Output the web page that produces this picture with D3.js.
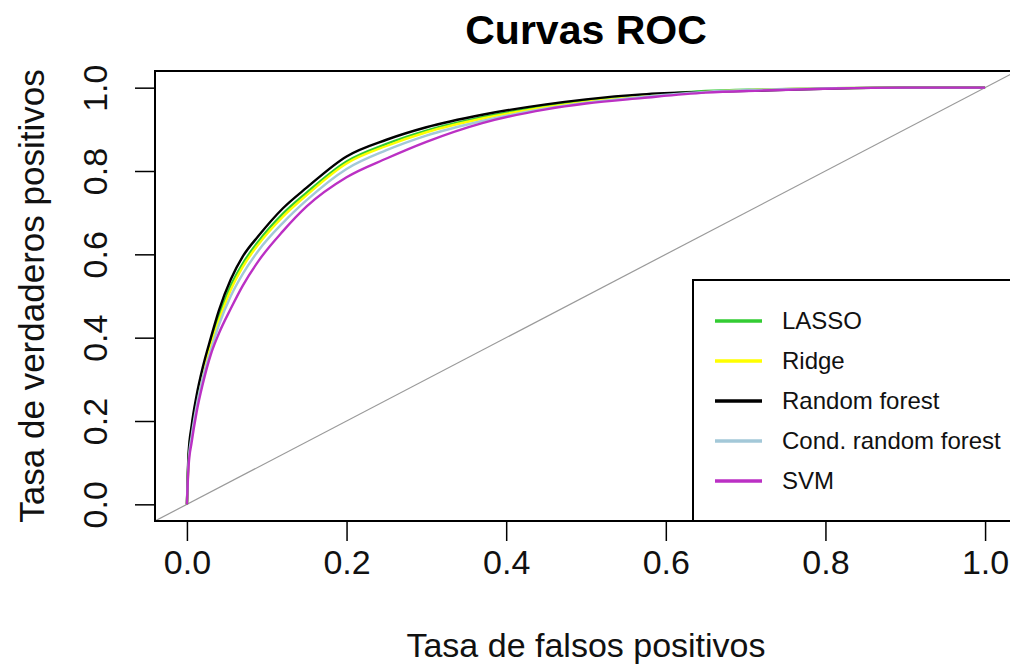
<!DOCTYPE html>
<html>
<head>
<meta charset="utf-8">
<script src="https://cdn.jsdelivr.net/npm/d3@7"></script>
<style>
  body { margin: 0; background: #fff; }
  svg { display: block; font-family: "Liberation Sans", Arial, sans-serif; }
</style>
</head>
<body>
<svg id="chart" width="1010" height="668"></svg>
<script>
// false positive rate grid
const fpr = [0, 0.002, 0.006, 0.012, 0.02, 0.03, 0.04, 0.055, 0.07, 0.09, 0.12, 0.15,
             0.2, 0.25, 0.3, 0.37, 0.45, 0.5, 0.57, 0.65, 0.72, 0.81, 0.9, 1.0];

// true positive rates per model
const tprLasso = [0, 0.11, 0.18, 0.25, 0.32, 0.39, 0.45, 0.525, 0.578, 0.632, 0.697, 0.748,
                  0.823, 0.865, 0.897, 0.929, 0.956, 0.968, 0.98, 0.992, 0.996, 0.999, 1, 1];
const tprRidge = [0, 0.10, 0.175, 0.245, 0.315, 0.38, 0.44, 0.515, 0.57, 0.625, 0.69, 0.742,
                  0.818, 0.86, 0.893, 0.926, 0.953, 0.966, 0.979, 0.99, 0.995, 0.999, 1, 1];
const tprRf    = [0, 0.12, 0.19, 0.26, 0.33, 0.40, 0.465, 0.54, 0.595, 0.645, 0.71, 0.76,
                  0.835, 0.875, 0.905, 0.935, 0.96, 0.972, 0.984, 0.99, 0.993, 0.998, 1, 1];
const tprCrf   = [0, 0.10, 0.165, 0.235, 0.305, 0.37, 0.43, 0.5, 0.553, 0.61, 0.675, 0.73,
                  0.805, 0.85, 0.885, 0.92, 0.95, 0.964, 0.978, 0.99, 0.995, 0.999, 1, 1];
const tprSvm   = [0, 0.09, 0.15, 0.22, 0.29, 0.36, 0.41, 0.47, 0.525, 0.585, 0.655, 0.715,
                  0.785, 0.83, 0.87, 0.915, 0.948, 0.962, 0.975, 0.988, 0.993, 0.998, 1, 1];

const modelNames = ["LASSO", "Ridge", "Random forest", "Cond. random forest", "SVM"];
const modelColors = ["#33cc33", "#ffff00", "#000000", "#a3c8d8", "#bb30c4"];
const modelTpr = [tprLasso, tprRidge, tprRf, tprCrf, tprSvm];

const xTicks = [0, 0.2, 0.4, 0.6, 0.8, 1.0];
const yTicks = [0, 0.2, 0.4, 0.6, 0.8, 1.0];

const svg = d3.select("#chart");
const box = { left: 155, right: 1017, top: 71, bottom: 521 };

// R style usr range: 4% padding on each side
const x = d3.scaleLinear().domain([-0.04, 1.04]).range([box.left, box.right]);
const y = d3.scaleLinear().domain([-0.04, 1.04]).range([box.bottom, box.top]);
const fmt = d3.format(".1f");

svg.append("defs").append("clipPath").attr("id", "plotclip")
  .append("rect")
  .attr("x", box.left).attr("y", box.top)
  .attr("width", box.right - box.left).attr("height", box.bottom - box.top);

const plot = svg.append("g").attr("clip-path", "url(#plotclip)");

// reference diagonal
plot.append("line")
  .attr("x1", x(-0.04)).attr("y1", y(-0.04))
  .attr("x2", x(1.04)).attr("y2", y(1.04))
  .attr("stroke", "#9a9a9a")
  .attr("stroke-width", 1.2);

// ROC curves
const line = d3.line()
  .x(d => x(d[0]))
  .y(d => y(d[1]))
  .curve(d3.curveMonotoneX);

modelTpr.forEach((tpr, i) => {
  plot.append("path")
    .datum(fpr.map((f, j) => [f, tpr[j]]))
    .attr("fill", "none")
    .attr("stroke", modelColors[i])
    .attr("stroke-width", 2.4)
    .attr("stroke-linejoin", "round")
    .attr("d", line);
});

// x axis
const xAxis = svg.append("g")
  .attr("transform", `translate(0,${box.bottom})`)
  .call(d3.axisBottom(x).tickValues(xTicks).tickFormat(fmt).tickSize(20).tickSizeOuter(0));
xAxis.select(".domain").remove();
xAxis.selectAll(".tick line").attr("stroke", "#000").attr("stroke-width", 1.5);
xAxis.selectAll(".tick text")
  .attr("y", 53).attr("dy", 0)
  .attr("font-size", 34)
  .attr("fill", "#111")
  .attr("font-family", "Liberation Sans, Arial, sans-serif");

// y axis
const yAxis = svg.append("g")
  .attr("transform", `translate(${box.left},0)`)
  .call(d3.axisLeft(y).tickValues(yTicks).tickFormat(fmt).tickSize(20).tickSizeOuter(0));
yAxis.select(".domain").remove();
yAxis.selectAll(".tick line").attr("stroke", "#000").attr("stroke-width", 1.5);
yAxis.selectAll(".tick text")
  .attr("x", null).attr("dy", null)
  .attr("text-anchor", "middle")
  .attr("transform", "translate(-48,0) rotate(-90)")
  .attr("font-size", 34)
  .attr("fill", "#111")
  .attr("font-family", "Liberation Sans, Arial, sans-serif");

// plot box
svg.append("rect")
  .attr("x", box.left).attr("y", box.top)
  .attr("width", box.right - box.left).attr("height", box.bottom - box.top)
  .attr("fill", "none")
  .attr("stroke", "#000")
  .attr("stroke-width", 2);

// legend (bottom right)
const legend = svg.append("g");
legend.append("rect")
  .attr("x", 693).attr("y", 280)
  .attr("width", box.right - 693).attr("height", box.bottom - 280)
  .attr("fill", "#fff")
  .attr("stroke", "#000")
  .attr("stroke-width", 2);

modelNames.forEach((name, i) => {
  const ly = 321 + i * 40;
  legend.append("line")
    .attr("x1", 715).attr("x2", 762)
    .attr("y1", ly).attr("y2", ly)
    .attr("stroke", modelColors[i])
    .attr("stroke-width", 3.5);
  legend.append("text")
    .attr("x", 782).attr("y", ly + 8)
    .attr("font-size", 24)
    .attr("fill", "#111")
    .text(name);
});

// titles
svg.append("text")
  .attr("x", (box.left + box.right) / 2).attr("y", 44)
  .attr("text-anchor", "middle")
  .attr("font-size", 41)
  .attr("font-weight", "bold")
  .attr("fill", "#000")
  .text("Curvas ROC");

svg.append("text")
  .attr("x", (box.left + box.right) / 2).attr("y", 657)
  .attr("text-anchor", "middle")
  .attr("font-size", 34)
  .attr("fill", "#111")
  .text("Tasa de falsos positivos");

svg.append("text")
  .attr("transform", `translate(44,${(box.top + box.bottom) / 2}) rotate(-90)`)
  .attr("text-anchor", "middle")
  .attr("font-size", 35)
  .attr("fill", "#111")
  .text("Tasa de verdaderos positivos");
</script>
</body>
</html>
